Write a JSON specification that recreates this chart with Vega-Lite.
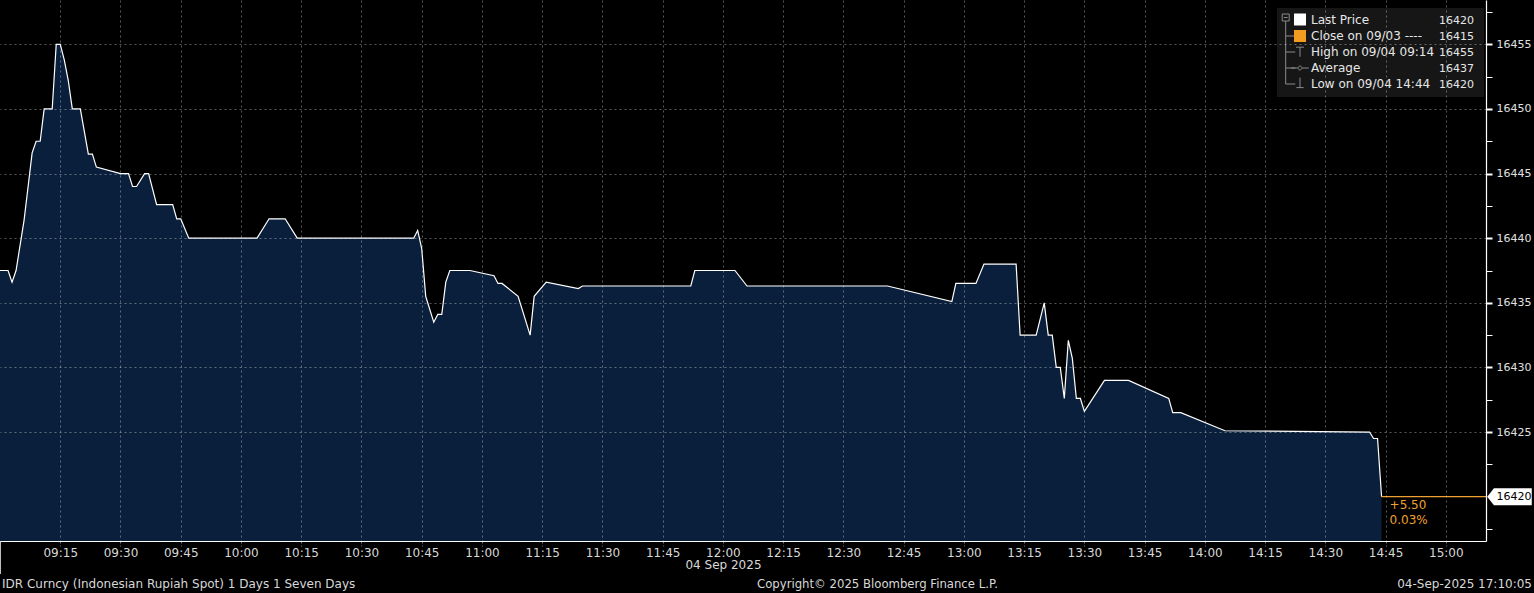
{
  "$schema": "https://vega.github.io/schema/vega-lite/v6.json",
  "width": 1486,
  "height": 541,
  "autosize": {"type": "none"},
  "padding": {"left": 0, "top": 0, "right": 48, "bottom": 52},
  "background": "#000000",
  "config": {"view": {"stroke": null}, "font": "DejaVu Sans"},
  "resolve": {"axis": {"y": "independent"}},
  "datasets": {
    "price": [
      {"time": "2025-09-04T09:00:00", "price": 16437.5},
      {"time": "2025-09-04T09:02:00", "price": 16437.5},
      {"time": "2025-09-04T09:03:00", "price": 16436.6},
      {"time": "2025-09-04T09:04:00", "price": 16437.5},
      {"time": "2025-09-04T09:06:00", "price": 16441.4},
      {"time": "2025-09-04T09:08:00", "price": 16446.6},
      {"time": "2025-09-04T09:09:00", "price": 16447.5},
      {"time": "2025-09-04T09:10:00", "price": 16447.5},
      {"time": "2025-09-04T09:11:00", "price": 16450},
      {"time": "2025-09-04T09:13:00", "price": 16450},
      {"time": "2025-09-04T09:14:00", "price": 16455},
      {"time": "2025-09-04T09:15:00", "price": 16455},
      {"time": "2025-09-04T09:16:00", "price": 16453.8},
      {"time": "2025-09-04T09:17:00", "price": 16452.2},
      {"time": "2025-09-04T09:18:00", "price": 16450},
      {"time": "2025-09-04T09:20:00", "price": 16450},
      {"time": "2025-09-04T09:22:00", "price": 16446.5},
      {"time": "2025-09-04T09:23:00", "price": 16446.5},
      {"time": "2025-09-04T09:24:00", "price": 16445.5},
      {"time": "2025-09-04T09:30:00", "price": 16445},
      {"time": "2025-09-04T09:32:00", "price": 16445},
      {"time": "2025-09-04T09:33:00", "price": 16444},
      {"time": "2025-09-04T09:34:00", "price": 16444},
      {"time": "2025-09-04T09:36:00", "price": 16445},
      {"time": "2025-09-04T09:37:00", "price": 16445},
      {"time": "2025-09-04T09:39:00", "price": 16442.6},
      {"time": "2025-09-04T09:43:00", "price": 16442.6},
      {"time": "2025-09-04T09:44:00", "price": 16441.5},
      {"time": "2025-09-04T09:45:00", "price": 16441.5},
      {"time": "2025-09-04T09:47:00", "price": 16440},
      {"time": "2025-09-04T10:04:00", "price": 16440},
      {"time": "2025-09-04T10:07:00", "price": 16441.5},
      {"time": "2025-09-04T10:11:00", "price": 16441.5},
      {"time": "2025-09-04T10:14:00", "price": 16440},
      {"time": "2025-09-04T10:43:00", "price": 16440},
      {"time": "2025-09-04T10:44:00", "price": 16440.6},
      {"time": "2025-09-04T10:45:00", "price": 16439.2},
      {"time": "2025-09-04T10:46:00", "price": 16435.5},
      {"time": "2025-09-04T10:48:00", "price": 16433.5},
      {"time": "2025-09-04T10:49:00", "price": 16434.1},
      {"time": "2025-09-04T10:50:00", "price": 16434.1},
      {"time": "2025-09-04T10:51:00", "price": 16436.6},
      {"time": "2025-09-04T10:52:00", "price": 16437.5},
      {"time": "2025-09-04T10:57:00", "price": 16437.5},
      {"time": "2025-09-04T11:03:00", "price": 16437.1},
      {"time": "2025-09-04T11:04:00", "price": 16436.5},
      {"time": "2025-09-04T11:05:00", "price": 16436.5},
      {"time": "2025-09-04T11:09:00", "price": 16435.5},
      {"time": "2025-09-04T11:12:00", "price": 16432.5},
      {"time": "2025-09-04T11:13:00", "price": 16435.5},
      {"time": "2025-09-04T11:16:00", "price": 16436.6},
      {"time": "2025-09-04T11:24:00", "price": 16436.1},
      {"time": "2025-09-04T11:25:00", "price": 16436.3},
      {"time": "2025-09-04T11:52:00", "price": 16436.3},
      {"time": "2025-09-04T11:53:00", "price": 16437.5},
      {"time": "2025-09-04T12:03:00", "price": 16437.5},
      {"time": "2025-09-04T12:06:00", "price": 16436.3},
      {"time": "2025-09-04T12:41:00", "price": 16436.3},
      {"time": "2025-09-04T12:57:00", "price": 16435.1},
      {"time": "2025-09-04T12:58:00", "price": 16436.5},
      {"time": "2025-09-04T13:03:00", "price": 16436.5},
      {"time": "2025-09-04T13:05:00", "price": 16438},
      {"time": "2025-09-04T13:13:00", "price": 16438},
      {"time": "2025-09-04T13:14:00", "price": 16432.5},
      {"time": "2025-09-04T13:18:00", "price": 16432.5},
      {"time": "2025-09-04T13:20:00", "price": 16435},
      {"time": "2025-09-04T13:21:00", "price": 16432.5},
      {"time": "2025-09-04T13:22:00", "price": 16432.5},
      {"time": "2025-09-04T13:23:00", "price": 16430},
      {"time": "2025-09-04T13:24:00", "price": 16430},
      {"time": "2025-09-04T13:25:00", "price": 16427.6},
      {"time": "2025-09-04T13:26:00", "price": 16432.1},
      {"time": "2025-09-04T13:27:00", "price": 16430.7},
      {"time": "2025-09-04T13:28:00", "price": 16427.6},
      {"time": "2025-09-04T13:29:00", "price": 16427.6},
      {"time": "2025-09-04T13:30:00", "price": 16426.6},
      {"time": "2025-09-04T13:35:00", "price": 16429},
      {"time": "2025-09-04T13:41:00", "price": 16429},
      {"time": "2025-09-04T13:51:00", "price": 16427.6},
      {"time": "2025-09-04T13:52:00", "price": 16426.5},
      {"time": "2025-09-04T13:54:00", "price": 16426.5},
      {"time": "2025-09-04T14:05:00", "price": 16425.1},
      {"time": "2025-09-04T14:41:00", "price": 16425},
      {"time": "2025-09-04T14:42:00", "price": 16424.5},
      {"time": "2025-09-04T14:43:00", "price": 16424.5},
      {"time": "2025-09-04T14:44:00", "price": 16420}
    ],
    "one": [{"k": 1}]
  },
  "layer": [
    {
      "data": {"name": "price"},
      "mark": {"type": "area", "color": "#0a1f3b", "opacity": 1, "interpolate": "linear", "line": {"color": "#ffffff", "strokeWidth": 1.2}},
      "encoding": {
        "x": {
          "field": "time", "type": "temporal",
          "scale": {"domain": [{"year": 2025, "month": 9, "date": 4, "hours": 9, "minutes": 0}, {"year": 2025, "month": 9, "date": 4, "hours": 15, "minutes": 10}]},
          "axis": {
            "title": "04 Sep 2025", "titleX": 723, "titleColor": "#d8d8d8", "titleFontWeight": "normal", "titleFontSize": 12, "titlePadding": 1,
            "values": [
              {"year": 2025, "month": 9, "date": 4, "hours": 9, "minutes": 15},
              {"year": 2025, "month": 9, "date": 4, "hours": 9, "minutes": 30},
              {"year": 2025, "month": 9, "date": 4, "hours": 9, "minutes": 45},
              {"year": 2025, "month": 9, "date": 4, "hours": 10, "minutes": 0},
              {"year": 2025, "month": 9, "date": 4, "hours": 10, "minutes": 15},
              {"year": 2025, "month": 9, "date": 4, "hours": 10, "minutes": 30},
              {"year": 2025, "month": 9, "date": 4, "hours": 10, "minutes": 45},
              {"year": 2025, "month": 9, "date": 4, "hours": 11, "minutes": 0},
              {"year": 2025, "month": 9, "date": 4, "hours": 11, "minutes": 15},
              {"year": 2025, "month": 9, "date": 4, "hours": 11, "minutes": 30},
              {"year": 2025, "month": 9, "date": 4, "hours": 11, "minutes": 45},
              {"year": 2025, "month": 9, "date": 4, "hours": 12, "minutes": 0},
              {"year": 2025, "month": 9, "date": 4, "hours": 12, "minutes": 15},
              {"year": 2025, "month": 9, "date": 4, "hours": 12, "minutes": 30},
              {"year": 2025, "month": 9, "date": 4, "hours": 12, "minutes": 45},
              {"year": 2025, "month": 9, "date": 4, "hours": 13, "minutes": 0},
              {"year": 2025, "month": 9, "date": 4, "hours": 13, "minutes": 15},
              {"year": 2025, "month": 9, "date": 4, "hours": 13, "minutes": 30},
              {"year": 2025, "month": 9, "date": 4, "hours": 13, "minutes": 45},
              {"year": 2025, "month": 9, "date": 4, "hours": 14, "minutes": 0},
              {"year": 2025, "month": 9, "date": 4, "hours": 14, "minutes": 15},
              {"year": 2025, "month": 9, "date": 4, "hours": 14, "minutes": 30},
              {"year": 2025, "month": 9, "date": 4, "hours": 14, "minutes": 45},
              {"year": 2025, "month": 9, "date": 4, "hours": 15, "minutes": 0}
            ],
            "format": "%H:%M",
            "labelColor": "#d8d8d8", "labelFontSize": 12, "labelPadding": 1, "labelOverlap": false, "labelFlush": false,
            "domainColor": "#ffffff", "domainWidth": 1.2,
            "grid": true, "gridColor": "#ffffff", "gridOpacity": 0.35, "gridDash": [2, 3],
            "tickColor": "#ffffff", "tickOpacity": 0.45, "tickSize": 5, "tickDash": [2, 2],
            "zindex": 1
          }
        },
        "y": {
          "field": "price", "type": "quantitative",
          "scale": {"domain": [16416.57, 16458.43], "zero": false, "nice": false},
          "axis": {
            "orient": "right", "title": null,
            "values": [16425, 16430, 16435, 16440, 16445, 16450, 16455],
            "format": "d",
            "labelColor": "#e0e0e0", "labelFontSize": 11, "labelPadding": 4, "labelOverlap": false, "labelFlush": false,
            "domainColor": "#ffffff", "domainWidth": 1.2,
            "tickColor": "#ffffff", "tickSize": 6, "tickWidth": 2,
            "grid": true, "gridColor": "#ffffff", "gridDash": [2, 3], "gridOpacity": 0.35,
            "zindex": 1
          }
        },
        "y2": {"datum": 16416.57}
      }
    },
    {
      "data": {"name": "one"},
      "mark": {"type": "point", "opacity": 0},
      "encoding": {
        "x": {"datum": {"year": 2025, "month": 9, "date": 4, "hours": 12, "minutes": 0}, "type": "temporal"},
        "y": {
          "datum": 16440, "type": "quantitative",
          "axis": {
            "orient": "right", "title": null, "labels": false, "grid": false, "domain": false,
            "values": [16417.5, 16422.5, 16427.5, 16432.5, 16437.5, 16442.5, 16447.5, 16452.5, 16457.5],
            "tickColor": "#ffffff", "tickSize": 6, "tickWidth": 1, "zindex": 1
          }
        }
      }
    },
    {
      "data": {"name": "one"},
      "mark": {"type": "rect", "color": "#161616", "opacity": 1, "xOffset": -209, "x2Offset": -2, "yOffset": 8, "y2Offset": 97},
      "encoding": {
        "x": {"datum": {"year": 2025, "month": 9, "date": 4, "hours": 15, "minutes": 10}, "type": "temporal"},
        "x2": {"datum": {"year": 2025, "month": 9, "date": 4, "hours": 15, "minutes": 10}},
        "y": {"datum": 16458.43, "type": "quantitative", "axis": null},
        "y2": {"datum": 16458.43}
      }
    },
    {
      "data": {"name": "one"},
      "mark": {"type": "text", "align": "left", "baseline": "top", "dx": -175, "dy": 14.5, "fontSize": 12, "lineHeight": 16, "color": "#e6e6e6"},
      "encoding": {
        "x": {"datum": {"year": 2025, "month": 9, "date": 4, "hours": 15, "minutes": 10}, "type": "temporal"},
        "y": {"datum": 16458.43, "type": "quantitative", "axis": null},
        "text": {"value": ["Last Price", "Close on 09/03 ----", "High on 09/04 09:14", "Average", "Low on 09/04 14:44"]}
      }
    },
    {
      "data": {"name": "one"},
      "mark": {"type": "text", "align": "right", "baseline": "top", "dx": -12, "dy": 14.5, "fontSize": 11, "lineHeight": 16, "color": "#e6e6e6"},
      "encoding": {
        "x": {"datum": {"year": 2025, "month": 9, "date": 4, "hours": 15, "minutes": 10}, "type": "temporal"},
        "y": {"datum": 16458.43, "type": "quantitative", "axis": null},
        "text": {"value": ["16420", "16415", "16455", "16437", "16420"]}
      }
    },
    {
      "data": {"name": "one"},
      "mark": {"type": "point", "shape": "M -1 -1 H 1 V 1 H -1 Z M -0.55 0 H 0.55", "size": 49, "filled": false, "color": "#8a8a8a", "strokeWidth": 1, "opacity": 1, "xOffset": -200.3, "yOffset": 17.5},
      "encoding": {
        "x": {"datum": {"year": 2025, "month": 9, "date": 4, "hours": 15, "minutes": 10}, "type": "temporal"},
        "y": {"datum": 16458.43, "type": "quantitative", "axis": null}
      }
    },
    {
      "data": {"name": "one"},
      "mark": {"type": "point", "shape": "M 0 -1.03 V 0.94 M 0 -0.5625 H 0.3 M 0 -0.0625 H 0.3 M 0 0.4375 H 0.3 M 0 0.9375 H 0.3", "size": 4096, "filled": false, "color": "#8a8a8a", "strokeWidth": 1, "opacity": 1, "xOffset": -200.3, "yOffset": 54},
      "encoding": {
        "x": {"datum": {"year": 2025, "month": 9, "date": 4, "hours": 15, "minutes": 10}, "type": "temporal"},
        "y": {"datum": 16458.43, "type": "quantitative", "axis": null}
      }
    },
    {
      "data": {"name": "one"},
      "mark": {"type": "point", "shape": "square", "size": 144, "filled": true, "color": "#ffffff", "opacity": 1, "xOffset": -186, "yOffset": 19.5},
      "encoding": {
        "x": {"datum": {"year": 2025, "month": 9, "date": 4, "hours": 15, "minutes": 10}, "type": "temporal"},
        "y": {"datum": 16458.43, "type": "quantitative", "axis": null}
      }
    },
    {
      "data": {"name": "one"},
      "mark": {"type": "point", "shape": "square", "size": 144, "filled": true, "color": "#f39c1f", "opacity": 1, "xOffset": -186, "yOffset": 36},
      "encoding": {
        "x": {"datum": {"year": 2025, "month": 9, "date": 4, "hours": 15, "minutes": 10}, "type": "temporal"},
        "y": {"datum": 16458.43, "type": "quantitative", "axis": null}
      }
    },
    {
      "data": {"name": "one"},
      "mark": {"type": "point", "shape": "M -0.5 -0.6 H 0.5 M 0 -0.6 V 0.6", "size": 256, "filled": false, "color": "#8a8a8a", "strokeWidth": 1, "opacity": 1, "xOffset": -186, "yOffset": 52},
      "encoding": {
        "x": {"datum": {"year": 2025, "month": 9, "date": 4, "hours": 15, "minutes": 10}, "type": "temporal"},
        "y": {"datum": 16458.43, "type": "quantitative", "axis": null}
      }
    },
    {
      "data": {"name": "one"},
      "mark": {"type": "point", "shape": "M -1.1 0 H -0.3 M 0.3 0 H 1.1 M -0.3 0 L 0 -0.3 L 0.3 0 L 0 0.3 Z", "size": 256, "filled": false, "color": "#8a8a8a", "strokeWidth": 1, "opacity": 1, "xOffset": -186, "yOffset": 68},
      "encoding": {
        "x": {"datum": {"year": 2025, "month": 9, "date": 4, "hours": 15, "minutes": 10}, "type": "temporal"},
        "y": {"datum": 16458.43, "type": "quantitative", "axis": null}
      }
    },
    {
      "data": {"name": "one"},
      "mark": {"type": "point", "shape": "M 0 -0.8 V 0.45 M -0.45 0.45 H 0.45", "size": 256, "filled": false, "color": "#8a8a8a", "strokeWidth": 1, "opacity": 1, "xOffset": -186, "yOffset": 84},
      "encoding": {
        "x": {"datum": {"year": 2025, "month": 9, "date": 4, "hours": 15, "minutes": 10}, "type": "temporal"},
        "y": {"datum": 16458.43, "type": "quantitative", "axis": null}
      }
    },
    {
      "data": {"name": "one"},
      "mark": {"type": "rule", "color": "#f0a030", "strokeWidth": 1.2},
      "encoding": {
        "x": {"datum": {"year": 2025, "month": 9, "date": 4, "hours": 14, "minutes": 44}, "type": "temporal"},
        "x2": {"datum": {"year": 2025, "month": 9, "date": 4, "hours": 15, "minutes": 10}},
        "y": {"datum": 16420, "type": "quantitative", "axis": null}
      }
    },
    {
      "data": {"name": "one"},
      "mark": {"type": "text", "align": "left", "baseline": "top", "dx": 8, "dy": 3, "fontSize": 12, "lineHeight": 15, "color": "#f0a030"},
      "encoding": {
        "x": {"datum": {"year": 2025, "month": 9, "date": 4, "hours": 14, "minutes": 44}, "type": "temporal"},
        "y": {"datum": 16420, "type": "quantitative", "axis": null},
        "text": {"value": ["+5.50", "0.03%"]}
      }
    },
    {
      "data": {"name": "one"},
      "mark": {"type": "point", "shape": "M -1 0 L -0.7 -0.382 L 1 -0.382 L 1 0.382 L -0.7 0.382 Z", "size": 1980, "filled": true, "color": "#ffffff", "opacity": 1, "xOffset": 23.5},
      "encoding": {
        "x": {"datum": {"year": 2025, "month": 9, "date": 4, "hours": 15, "minutes": 10}, "type": "temporal"},
        "y": {"datum": 16420, "type": "quantitative", "axis": null}
      }
    },
    {
      "data": {"name": "one"},
      "mark": {"type": "text", "align": "left", "baseline": "middle", "dx": 10.5, "fontSize": 11, "color": "#000000"},
      "encoding": {
        "x": {"datum": {"year": 2025, "month": 9, "date": 4, "hours": 15, "minutes": 10}, "type": "temporal"},
        "y": {"datum": 16420, "type": "quantitative", "axis": null},
        "text": {"value": "16420"}
      }
    },
    {
      "data": {"name": "one"},
      "mark": {"type": "rule", "color": "#ffffff", "strokeWidth": 1.5, "y2Offset": 33},
      "encoding": {
        "x": {"datum": {"year": 2025, "month": 9, "date": 4, "hours": 9, "minutes": 0}, "type": "temporal"},
        "y": {"datum": 16416.57, "type": "quantitative", "axis": null},
        "y2": {"datum": 16416.57}
      }
    },
    {
      "data": {"name": "one"},
      "mark": {"type": "text", "align": "left", "baseline": "middle", "dx": 2, "dy": 43, "fontSize": 12, "color": "#d8d8d8"},
      "encoding": {
        "x": {"datum": {"year": 2025, "month": 9, "date": 4, "hours": 9, "minutes": 0}, "type": "temporal"},
        "y": {"datum": 16416.57, "type": "quantitative", "axis": null},
        "text": {"value": "IDR Curncy (Indonesian Rupiah Spot) 1 Days 1 Seven Days"}
      }
    },
    {
      "data": {"name": "one"},
      "mark": {"type": "text", "align": "left", "baseline": "middle", "dx": 757, "dy": 43, "fontSize": 11.7, "color": "#d8d8d8"},
      "encoding": {
        "x": {"datum": {"year": 2025, "month": 9, "date": 4, "hours": 9, "minutes": 0}, "type": "temporal"},
        "y": {"datum": 16416.57, "type": "quantitative", "axis": null},
        "text": {"value": "Copyright© 2025 Bloomberg Finance L.P."}
      }
    },
    {
      "data": {"name": "one"},
      "mark": {"type": "text", "align": "right", "baseline": "middle", "dx": 46, "dy": 43, "fontSize": 12, "color": "#d8d8d8"},
      "encoding": {
        "x": {"datum": {"year": 2025, "month": 9, "date": 4, "hours": 15, "minutes": 10}, "type": "temporal"},
        "y": {"datum": 16416.57, "type": "quantitative", "axis": null},
        "text": {"value": "04-Sep-2025 17:10:05"}
      }
    }
  ]
}
